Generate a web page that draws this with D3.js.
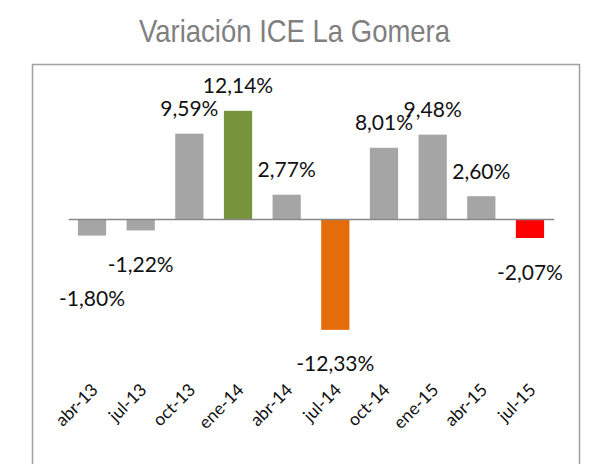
<!DOCTYPE html>
<html>
<head>
<meta charset="utf-8">
<script src="https://cdn.jsdelivr.net/npm/d3@7"></script>
<style>
  body { margin: 0; background: #fff; }
</style>
</head>
<body>
<div id="chart"></div>
<script>
// trimestres y variacion del ICE (%)
const categories = ["abr-13", "jul-13", "oct-13", "ene-14", "abr-14", "jul-14", "oct-14", "ene-15", "abr-15", "jul-15"]
const variacion = [-1.80, -1.22, 9.59, 12.14, 2.77, -12.33, 8.01, 9.48, 2.60, -2.07]
const chartTitle = "Variación ICE La Gomera"

const width = 592, height = 464
const zeroY = 219.5, pxPerUnit = 8.95

let svg = d3.select("#chart")
            .append("svg")
            .attr("width", width)
            .attr("height", height)

// marco del area del grafico
svg.append("rect")
   .attr("x", 32.5)
   .attr("y", 64.5)
   .attr("width", 547)
   .attr("height", 420)
   .attr("fill", "none")
   .attr("stroke", "#a0a0a0")
   .attr("stroke-width", 1.5)

svg.append("text")
   .attr("x", 294.5)
   .attr("y", 42)
   .attr("text-anchor", "middle")
   .attr("fill", "#808080")
   .attr("font-family", "'Liberation Sans Narrow', 'Liberation Sans', sans-serif")
   .attr("font-size", 32)
   .attr("textLength", 311)
   .attr("lengthAdjust", "spacingAndGlyphs")
   .text(chartTitle)

let x = d3.scaleBand()
          .domain(categories)
          .range([67.7, 554.3])
          .paddingInner(0.42)
          .paddingOuter(0.21)

let y = d3.scaleLinear()
          .domain([-14, 14])
          .range([zeroY + 14 * pxPerUnit, zeroY - 14 * pxPerUnit])

const highlight = {"ene-14": "#77933c", "jul-14": "#e46c0a", "jul-15": "#ff0000"}
const data = categories.map(function(c, i) { return {cat: c, v: variacion[i]} })

svg.append("g")
   .selectAll("rect")
   .data(data)
   .join("rect")
   .attr("x", function(d) { return x(d.cat) })
   .attr("width", x.bandwidth())
   .attr("y", function(d) { return y(Math.max(0, d.v)) })
   .attr("height", function(d) { return Math.abs(y(d.v) - y(0)) })
   .attr("fill", function(d) { return highlight[d.cat] || "#a5a5a5" })

// linea del cero
svg.append("line")
   .attr("x1", x.range()[0] + 1)
   .attr("x2", x.range()[1])
   .attr("y1", y(0))
   .attr("y2", y(0))
   .attr("stroke", "#888888")
   .attr("stroke-width", 1.5)

// etiqueta de -1,80% desplazada a mano en el original
const labelNudge = {"abr-13": 29}

svg.append("g")
   .selectAll("text")
   .data(data)
   .join("text")
   .attr("x", function(d) { return x(d.cat) + x.bandwidth() / 2 })
   .attr("y", function(d) {
       let base = d.v >= 0 ? y(d.v) - 17.5 : y(d.v) + 41.5
       return base + (labelNudge[d.cat] || 0)
   })
   .attr("text-anchor", "middle")
   .attr("font-family", "Lato, 'Open Sans', sans-serif")
   .attr("font-size", 21)
   .attr("fill", "#111")
   .text(function(d) { return d.v.toFixed(2).replace(".", ",") + "%" })

let xAxis = svg.append("g")
               .attr("transform", "translate(0,391)")
               .call(d3.axisBottom(x).tickSize(0))
xAxis.select(".domain").remove()
xAxis.selectAll("text")
     .attr("x", null)
     .attr("y", null)
     .attr("dy", null)
     .attr("transform", "translate(7,0) rotate(-45)")
     .style("text-anchor", "end")
     .attr("font-family", "Lato, 'Open Sans', sans-serif")
     .attr("font-size", 17.5)
     .attr("fill", "#111")
</script>
</body>
</html>
